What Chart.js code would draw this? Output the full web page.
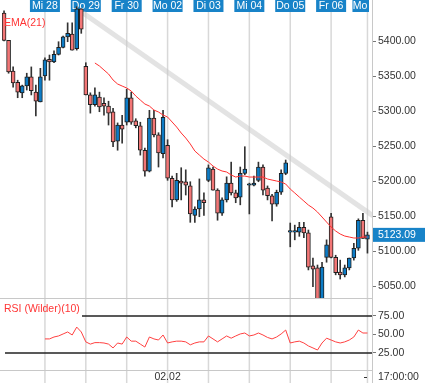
<!DOCTYPE html>
<html><head><meta charset="utf-8">
<script src="https://cdn.jsdelivr.net/npm/chart.js@4.4.0/dist/chart.umd.min.js"></script>
<style>
html,body{margin:0;padding:0;background:#fff;overflow:hidden}
#wrap{position:relative;width:425px;height:383px;background:#fff}
#c1{position:absolute;left:0;top:0}
#c2{position:absolute;left:0;top:298px}
</style></head><body>
<div id="wrap"><canvas id="c1" width="425" height="298"></canvas><canvas id="c2" width="425" height="85"></canvas></div>
<script>
// ---- data (hourly candles, slot index = position in arrays) ----
const opens = [5440,5401,5357,5341,5326,5336,5349,5327,5313,
  5350,5374,5370,5381,5391,5406,5410,5389,5446,
  5364,5323,5309,5320,5311,5307,5299,5257,5280,
  5284,5319,5286,5279,5244,5214,5290,5266,5239,
  5251,5204,5173,5200,5199,5193,5151,5160,5173,
  5201,5217,5187,5154,5173,5197,5183,5177,5211,
  5194,5194,5201,5220,5190,5179,5167,5184,5211,
  5127,5127,5127,5134,5126,5079,5076,5027,5091,
  5149,5091,5070,5066,5076,5090,5104,5144,
  5117];
const highs = [5443,5401,5363,5344,5337,5354,5363,5337,5361,
  5376,5380,5386,5399,5407,5426,5426,5449,5446,
  5369,5326,5333,5327,5319,5314,5304,5283,5294,
  5331,5327,5289,5284,5247,5301,5301,5269,5301,
  5259,5207,5211,5219,5216,5199,5163,5203,5183,
  5223,5220,5189,5176,5206,5227,5187,5220,5249,
  5197,5207,5227,5223,5193,5181,5187,5216,5230,
  5140,5137,5141,5141,5130,5090,5080,5084,5116,
  5154,5094,5087,5080,5090,5111,5146,5154,
  5127];
const lows = [5400,5354,5334,5319,5319,5330,5323,5293,5313,
  5344,5344,5369,5380,5390,5399,5387,5387,5411,
  5323,5297,5307,5299,5294,5280,5249,5244,5254,
  5280,5281,5276,5237,5207,5213,5263,5220,5233,
  5201,5163,5171,5173,5180,5141,5141,5149,5151,
  5199,5187,5144,5151,5170,5180,5169,5166,5209,
  5153,5193,5199,5180,5173,5143,5164,5181,5209,
  5106,5116,5121,5119,5073,5049,5023,5023,5084,
  5090,5066,5060,5063,5073,5087,5101,5118,
  5097];
const closes = [5401,5356,5340,5327,5336,5349,5329,5314,5349,
  5373,5370,5381,5391,5406,5411,5387,5446,5417,
  5323,5309,5323,5306,5307,5297,5256,5280,5274,
  5319,5284,5279,5244,5214,5290,5266,5240,5291,
  5204,5173,5201,5197,5194,5153,5160,5173,5169,
  5219,5187,5154,5173,5197,5183,5176,5211,5217,
  5196,5197,5220,5187,5179,5167,5184,5211,5226,
  5128,5129,5134,5126,5077,5074,5027,5077,5109,
  5091,5069,5066,5076,5090,5104,5144,5118,
  5123.09];
const emaStart = 20;
const emaValues = [5368.6,5364.3,5358.6,5352.9,5344.3,5338.6,5335.7,
  5332.9,5328.6,5321.4,5315.7,5310,5307.1,5301.4,5298.6,5294.3,
  5291.4,5284.3,5277.1,5268.6,5261.4,5252.9,5242.9,5237.1,5231.4,
  5227.1,5221.4,5217.1,5214.3,5212.9,5208.6,5205.7,5207.1,5207.1,
  5205.7,5205.7,5205.7,5205.7,5202.9,5201.4,5200,5198.6,5195.7,
  5188.6,5182.9,5177.1,5171.4,5165.7,5161.4,5155.7,5148.6,5141.4,
  5134.3,5128.6,5124.3,5121.4,5120,5118.6,5118.6,5120,
  5120];
const rsiStart = 9;
const rsiValues = [44,44,46.6,48,50.7,53.4,49.3,60,53.4,
  40,37,39,39,38.5,37,31.8,38.5,37,
  46.6,41,41,37,33,46.6,44,42.5,49.3,
  38.5,40,41,41,40,36,38.5,40,40,
  48,44,40,44,48,45,48,50.7,52,
  48,49.3,52,49.3,46,44,46.6,50.7,56,
  38.5,40,41,38.5,34.5,31.8,29,38.5,45,
  42.5,40,38.5,40,42.5,46.6,56,52,
  52];
const trendX = [17.4, 81.1];
const trendY = [5440, 5151];
const dayLabels = ['Mi 28','Do 29','Fr 30','Mo 02','Di 03','Mi 04','Do 05','Fr 06','Mo 09'];
const dayStarts = [9,18,27,36,45,54,63,72,80];
const priceTicks = [5050,5100,5150,5200,5250,5300,5350,5400];
const rsiTicks = [25,50,75];
const rsiLevels = [75,25];
const lastPrice = 5123.09;
const dateLabel = '02.02', dateSlot = 36, timeLabel = '17:00:00';

// ---- styles ----
const FONT = 'Arial, "Liberation Sans", sans-serif';
const FS = 10.5;
const BLUE = '#0d7cc6', RED = '#f27676', BOX = '#1883c8';
const XMIN = -0.45, XMAX = 81;

const idx = opens.map((_, i) => i);
const wickData = idx.map(i => ({x: i, y: [lows[i], highs[i]]}));
const bodyData = idx.map(i => ({x: i, y: [opens[i], closes[i]]}));
const bodyColors = idx.map(i => closes[i] >= opens[i] ? BLUE : RED);
const emaData = emaValues.map((v, k) => ({x: emaStart + k, y: v}));
const rsiData = rsiValues.map((v, k) => ({x: rsiStart + k, y: v}));
const trendData = trendX.map((v, k) => ({x: v, y: trendY[k]}));

function zeroPad(s){ s.width = 53; s.paddingTop = 0; s.paddingBottom = 0; }

const panelA = {
  id: 'panelA',
  beforeDatasetsDraw(chart){
    const {ctx, chartArea: a, scales: {x}} = chart;
    ctx.save();
    ctx.strokeStyle = '#d8d8d8'; ctx.lineWidth = 1.5;
    dayStarts.forEach(s => { const px = x.getPixelForValue(s); ctx.beginPath(); ctx.moveTo(px, a.top); ctx.lineTo(px, a.bottom); ctx.stroke(); });
    ctx.beginPath(); ctx.rect(a.left, 0, 369 - a.left, 20); ctx.clip();
    ctx.font = FS + 'px ' + FONT; ctx.textAlign = 'center'; ctx.textBaseline = 'middle';
    dayStarts.forEach((s, k) => {
      const px = x.getPixelForValue(s);
      ctx.fillStyle = BOX; ctx.fillRect(px - 15, 0, 30, 12);
      ctx.fillStyle = '#fff'; ctx.fillText(dayLabels[k], px, 6.5);
    });
    ctx.restore();
  },
  afterDraw(chart){
    const {ctx, scales: {y}} = chart;
    ctx.save();
    ctx.font = FS + 'px ' + FONT; ctx.textBaseline = 'middle'; ctx.textAlign = 'left';
    ctx.fillStyle = '#ff3535'; ctx.fillText('EMA(21)', 4, 23);
    const py = y.getPixelForValue(lastPrice);
    ctx.fillStyle = BOX; ctx.fillRect(373, py - 7, 52, 14);
    ctx.fillStyle = '#fff'; ctx.fillText(lastPrice.toFixed(2), 378, py + 0.5);
    ctx.restore();
  }
};

new Chart(document.getElementById('c1'), {
  type: 'bar',
  data: { datasets: [
    {type: 'line', data: trendData, borderColor: 'rgba(200,200,200,0.5)', borderWidth: 5, pointRadius: 0, borderCapStyle: 'round', order: 10, clip: 0},
    {type: 'bar', data: wickData, backgroundColor: '#333', barThickness: 1, grouped: false, order: 4, clip: 0},
    {type: 'bar', data: bodyData, backgroundColor: bodyColors, borderColor: '#1e1e1e', borderWidth: 1, borderSkipped: false, barThickness: 4, minBarLength: 1.5, grouped: false, order: 3, clip: 0},
    {type: 'line', data: emaData, borderColor: '#ff3030', borderWidth: 1, pointRadius: 0, tension: 0, order: 1, clip: 0}
  ]},
  options: {
    responsive: false, animation: false, events: [],
    layout: {padding: {left: 2, right: 0, top: 0, bottom: 0}},
    plugins: {legend: {display: false}, tooltip: {enabled: false}},
    scales: {
      x: {type: 'linear', min: XMIN, max: XMAX, offset: false, display: false},
      y: {position: 'right', min: 5032.9, max: 5458.6,
        afterFit: zeroPad,
        afterBuildTicks(s){ s.ticks = priceTicks.map(v => ({value: v})); },
        ticks: {callback: v => Number(v).toFixed(2), color: '#333', font: {size: FS, family: FONT}, padding: 2},
        grid: {drawOnChartArea: false, tickLength: 4, color: '#777'},
        border: {color: '#c8c8c8', width: 1}}
    }
  },
  plugins: [panelA]
});

const panelB = {
  id: 'panelB',
  beforeDatasetsDraw(chart){
    const {ctx, chartArea: a, scales: {x, y}} = chart;
    ctx.save();
    ctx.strokeStyle = '#d8d8d8'; ctx.lineWidth = 1.5;
    dayStarts.forEach(s => { const px = x.getPixelForValue(s); ctx.beginPath(); ctx.moveTo(px, 0); ctx.lineTo(px, 85); ctx.stroke(); });
    ctx.strokeStyle = '#c8c8c8'; ctx.lineWidth = 1;
    ctx.beginPath(); ctx.moveTo(0, 0.5); ctx.lineTo(a.right, 0.5); ctx.stroke();
    ctx.beginPath(); ctx.moveTo(0, a.bottom + 0.5); ctx.lineTo(a.right, a.bottom + 0.5); ctx.stroke();
    ctx.beginPath(); ctx.moveTo(a.right + 0.5, a.bottom); ctx.lineTo(a.right + 0.5, 85); ctx.stroke();
    ctx.strokeStyle = '#222'; ctx.lineWidth = 1.5;
    rsiLevels.forEach((v, k) => {
      const py = y.getPixelForValue(v);
      ctx.beginPath(); ctx.moveTo(k === 0 ? 82 : 5, py); ctx.lineTo(a.right, py); ctx.stroke();
    });
    ctx.restore();
  },
  afterDraw(chart){
    const {ctx, chartArea: a, scales: {x}} = chart;
    ctx.save();
    ctx.font = FS + 'px ' + FONT; ctx.textBaseline = 'middle'; ctx.textAlign = 'left';
    ctx.fillStyle = '#ff3535'; ctx.fillText('RSI (Wilder)(10)', 4, 11);
    ctx.fillStyle = '#333';
    ctx.textAlign = 'center'; ctx.fillText(dateLabel, x.getPixelForValue(dateSlot), 79);
    ctx.textAlign = 'left'; ctx.fillText(timeLabel, 378, 79);
    ctx.fillRect(364, 79, 3, 1);
    ctx.restore();
  }
};

new Chart(document.getElementById('c2'), {
  type: 'line',
  data: { datasets: [
    {data: rsiData, borderColor: '#ff4040', borderWidth: 1, pointRadius: 0, tension: 0, clip: 0}
  ]},
  options: {
    responsive: false, animation: false, events: [],
    layout: {padding: {left: 2, right: 0, top: 0, bottom: 13}},
    plugins: {legend: {display: false}, tooltip: {enabled: false}},
    scales: {
      x: {type: 'linear', min: XMIN, max: XMAX, offset: false, display: false},
      y: {position: 'right', min: 2.0, max: 99.3,
        afterFit: zeroPad,
        afterBuildTicks(s){ s.ticks = rsiTicks.map(v => ({value: v})); },
        ticks: {callback: v => Number(v).toFixed(2), color: '#333', font: {size: FS, family: FONT}, padding: 2},
        grid: {drawOnChartArea: false, tickLength: 4, color: '#777'},
        border: {color: '#c8c8c8', width: 1}}
    }
  },
  plugins: [panelB]
});
</script>
</body></html>
